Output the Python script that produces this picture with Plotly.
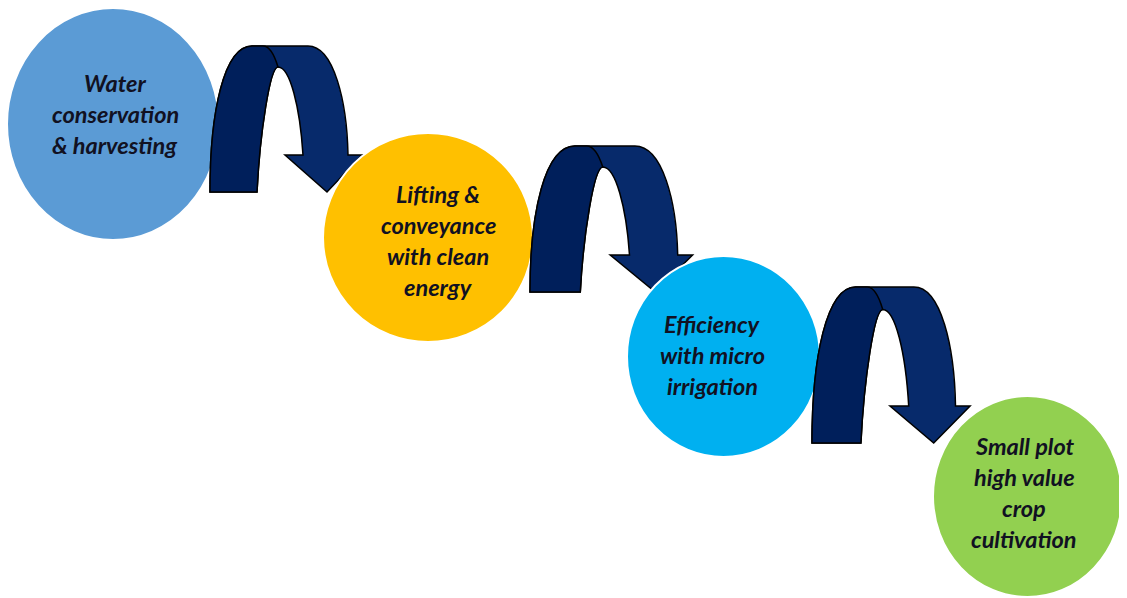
import plotly.graph_objects as go

# steps of the flow, one label per circle
STEP_LABELS = [
    ["Water", "conservation", "& harvesting"],
    ["Lifting &", "conveyance", "with clean", "energy"],
    ["Efficiency", "with micro", "irrigation"],
    ["Small plot", "high value", "crop", "cultivation"],
]
STEP_COLORS = ["#5B9BD5", "#FFC000", "#00B0F0", "#92D050"]

# layout constants (page pixel space, y down)
CIRCLE_BOXES = [
    (7, 8, 219, 240),
    (323, 133, 533, 342),
    (627, 256, 820, 457),
    (933, 396, 1122, 597),
]
TEXT_CENTERS = [(115, 114), (438, 240), (712, 355), (1024, 492)]
ARROWS = [  # origin x, origin y, x-scale, height
    (210, 192, 1.0, 146),
    (530, 292, 1.07, 146),
    (812, 443, 1.04, 156),
]
LINE_GAP = 31
ARROW_FILL = "#072A6B"
ARROW_FOLD = "#001F5B"
TEXT_COLOR = "#111122"

W, H = 1127, 598
PAGE_PAD = 8  # default body margin of the html page


def arrow_paths(x0, y0, sx, h):
    k = h / 146

    def p(lx, ly):
        return f"{x0 + lx * sx:.1f},{y0 + ly * k:.1f}"

    def q(lx, ly):
        return f"{x0 + lx * sx:.1f},{y0 + ly:.1f}"

    body = (
        f"M {p(0, 0)} C {p(0, -80)} {p(14, -146)} {p(42, -146)} "
        f"L {p(98, -146)} C {p(124, -146)} {p(137, -90)} {q(138, -37)} "
        f"L {q(152, -37)} L {q(117, 0)} L {q(75, -37)} L {q(93, -37)} "
        f"C {p(90, -85)} {p(80, -125)} {p(68, -125)} "
        f"C {p(60, -125)} {p(50, -60)} {p(47, 0)} Z"
    )
    leg = (
        f"M {p(0, 0)} C {p(0, -80)} {p(14, -146)} {p(42, -146)} "
        f"L {p(53, -146)} C {p(60, -146)} {p(65, -135)} {p(68, -125)} "
        f"C {p(60, -125)} {p(50, -60)} {p(47, 0)} Z"
    )
    return body, leg


fig = go.Figure()

shapes = []
annotations = []
for i, (labels, color) in enumerate(zip(STEP_LABELS, STEP_COLORS)):
    x0, y0, x1, y1 = CIRCLE_BOXES[i]
    shapes.append(
        dict(
            type="circle",
            xref="x",
            yref="y",
            x0=x0,
            y0=y0,
            x1=x1,
            y1=y1,
            fillcolor=color,
            line=dict(color="white", width=2),
        )
    )
    if i < len(ARROWS):
        body, leg = arrow_paths(*ARROWS[i])
        shapes.append(dict(type="path", path=body, fillcolor=ARROW_FILL, line=dict(color="#000000", width=1.5)))
        shapes.append(dict(type="path", path=leg, fillcolor=ARROW_FOLD, line=dict(color="#000000", width=1.5)))

    cx, cy = TEXT_CENTERS[i]
    n = len(labels)
    for j, line in enumerate(labels):
        annotations.append(
            dict(
                x=cx,
                y=cy + (j - (n - 1) / 2) * LINE_GAP,
                xref="x",
                yref="y",
                text=line,
                showarrow=False,
                xanchor="center",
                yanchor="middle",
                font=dict(family="Lato", size=23.5, color=TEXT_COLOR, weight="bold", style="italic"),
            )
        )

fig.update_layout(
    width=W - PAGE_PAD,
    height=H - PAGE_PAD,
    margin=dict(l=0, r=0, t=0, b=0),
    paper_bgcolor="white",
    plot_bgcolor="white",
    shapes=shapes,
    annotations=annotations,
    showlegend=False,
    xaxis=dict(range=[PAGE_PAD, W], visible=False, fixedrange=True),
    yaxis=dict(range=[H, PAGE_PAD], visible=False, fixedrange=True),
)

fig.write_html("out.html")
